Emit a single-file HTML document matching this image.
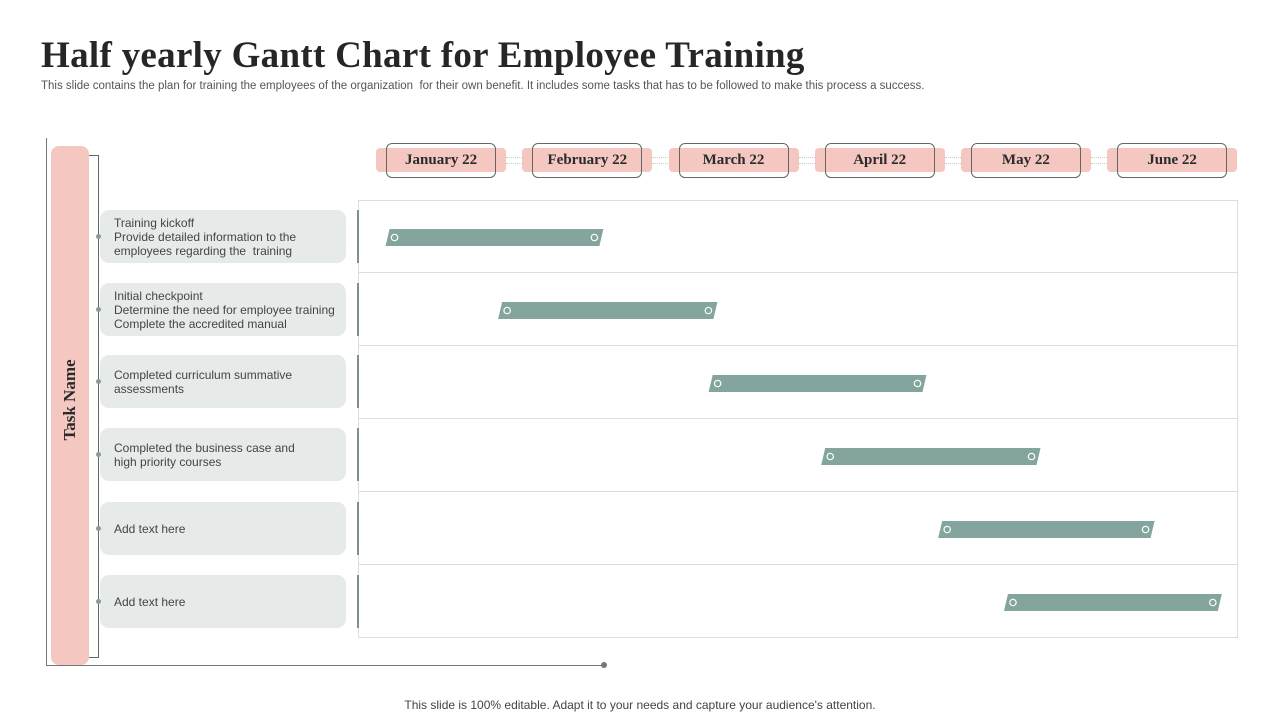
<!DOCTYPE html>
<html><head><meta charset="utf-8">
<style>
body{margin:0;width:1280px;height:720px;background:#fff;position:relative;overflow:hidden;font-family:"Liberation Sans",sans-serif}
.abs{position:absolute}
h1{position:absolute;left:41px;top:34px;margin:0;font-family:"Liberation Serif",serif;font-size:37px;font-weight:bold;color:#262626;letter-spacing:0.3px}
.sub{left:41px;top:80px;font-size:11.5px;color:#555}
.foot{left:0;width:1280px;top:698px;text-align:center;font-size:12px;color:#444}
.task{position:absolute;left:100px;width:246px;height:53px;background:#e6ebe9;border-radius:9px;font-size:12px;color:#444;line-height:14px;display:flex;align-items:center;padding-left:14px;box-sizing:border-box}
.dot{position:absolute;left:96px;width:5px;height:5px;border-radius:50%;background:#8a9a96}
.tick{position:absolute;left:357px;width:2px;height:53px;background:#7e928c}
.row{position:absolute;left:358px;width:880px;height:73px;border:1px solid #ddd;box-sizing:border-box}
.mpill{position:absolute;top:148px;width:130px;height:24px;background:#f4c7c1;border-radius:4px}
.mbox{position:absolute;top:143px;width:110px;height:35px;border:1px solid #666;border-radius:6px;box-sizing:border-box;font-family:"Liberation Serif",serif;font-weight:bold;font-size:15px;color:#2b2b2b;display:flex;align-items:center;justify-content:center}
.conn{position:absolute;top:157px;height:5px;border-top:1px dotted #ccc;border-bottom:1px dotted #ccc}
</style></head><body>
<h1>Half yearly Gantt Chart for Employee Training</h1>
<div class="abs sub">This slide contains the plan for training the employees of the organization &nbsp;for their own benefit. It includes some tasks that has to be followed to make this process a success.</div>

<div class="abs" style="left:46px;top:138px;width:1px;height:528px;background:#777"></div>
<div class="abs" style="left:46px;top:665px;width:558px;height:1px;background:#777"></div>
<div class="abs" style="left:601px;top:662px;width:6px;height:6px;border-radius:50%;background:#777"></div>
<div class="abs" style="left:88px;top:155px;width:11px;height:503px;border:1px solid #666;border-left:none;box-sizing:border-box"></div>
<div class="abs" style="left:51px;top:146px;width:38px;height:519px;background:#f4c7c1;border-radius:8px"></div>
<div class="abs" style="left:70px;top:400px;transform:translate(-50%,-50%) rotate(-90deg);font-family:'Liberation Serif',serif;font-weight:bold;font-size:17px;color:#2b2b2b;white-space:nowrap">Task Name</div>

<div id="months"></div>
<div id="rows"></div>
<svg id="bars" class="abs" style="left:0;top:0" width="1280" height="720"></svg>

<div class="abs foot">This slide is 100% editable. Adapt it to your needs and capture your audience's attention.</div>

<script>
const months = ["January 22","February 22","March 22","April 22","May 22","June 22"];
const tasks = [
 "Training kickoff<br>Provide detailed information to the<br>employees regarding the &nbsp;training",
 "Initial checkpoint<br>Determine the need for employee training<br>Complete the accredited manual",
 "Completed curriculum summative<br>assessments",
 "Completed the business case and<br>high priority courses",
 "Add text here",
 "Add text here"];
const barStart = [0.12,0.89,2.33,3.10,3.90,4.35];
const barEnd   = [1.61,2.39,3.82,4.60,5.38,5.84];

const X0=368, MW=146.2;
function xScale(m){return X0+m*MW;}
const rowTop=200, rowH=73;
function yRow(i){return rowTop+i*rowH;}

const mc=document.getElementById('months');
months.forEach((m,i)=>{
  const cx=xScale(i+0.5);
  if(i<months.length-1){
    const c=document.createElement('div');c.className='conn';
    
    
    c.style.left=(cx+65)+'px';c.style.width=(MW-130)+'px';mc.appendChild(c);
  }
  const p=document.createElement('div');p.className='mpill';
  
  
  p.style.left=(cx-65)+'px';mc.appendChild(p);
  const b=document.createElement('div');b.className='mbox';
  
  
  b.style.left=(cx-55)+'px';b.textContent=m;mc.appendChild(b);
});

const rc=document.getElementById('rows');
tasks.forEach((t,i)=>{
  const y=yRow(i);
  const r=document.createElement('div');r.className='row';
  
  
  r.style.top=y+'px';if(i>0)r.style.borderTop='none';rc.appendChild(r);
  const ty=y+10+(i===2||i===3?-1:0);
  const k=document.createElement('div');k.className='task';
  
  
  k.style.top=ty+'px';k.innerHTML='<div>'+t+'</div>';rc.appendChild(k);
  const d=document.createElement('div');d.className='dot';
  
  
  d.style.top=(ty+24)+'px';rc.appendChild(d);
  const tk=document.createElement('div');tk.className='tick';
  
  
  tk.style.top=ty+'px';rc.appendChild(tk);
});

const svg=document.getElementById('bars');const NS='http://www.w3.org/2000/svg';
barStart.forEach((s,i)=>{
  const x1=xScale(s),x2=xScale(barEnd[i]);
  const cy=yRow(i)+rowH/2+1,h=17,sk=4;
  const p=document.createElementNS(NS,'polygon');
  
  
  p.setAttribute('points',`${x1+sk},${cy-h/2} ${x2},${cy-h/2} ${x2-sk},${cy+h/2} ${x1},${cy+h/2}`);
  p.setAttribute('fill','#83a59d');svg.appendChild(p);
  [x1+9,x2-9].forEach(cx=>{
    const c=document.createElementNS(NS,'circle');
    
    
    c.setAttribute('cx',cx);c.setAttribute('cy',cy);c.setAttribute('r',3.2);
    c.setAttribute('fill','none');c.setAttribute('stroke','#fff');c.setAttribute('stroke-width','1.2');
    svg.appendChild(c);
  });
});
</script>
</body></html>
